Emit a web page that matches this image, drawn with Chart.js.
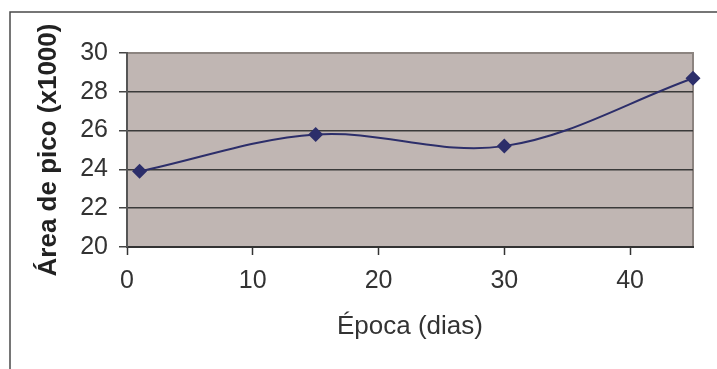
<!DOCTYPE html>
<html>
<head>
<meta charset="utf-8">
<script src="https://cdn.jsdelivr.net/npm/chart.js@4"></script>
<style>
    html, body { margin: 0; padding: 0; background: #fff; }
    #wrap { width: 717px; height: 369px; }
</style>
</head>
<body>
<div id="wrap"><canvas id="chart" width="717" height="369"></canvas></div>
<script>
// --- Data ---
const epocaDias = [1, 15, 30, 45];
const areaPico = [23.9, 25.8, 25.2, 28.7];
const xTicks = [0, 10, 20, 30, 40];
const yTicks = [20, 22, 24, 26, 28, 30];

const xTitle = "Época (dias)";
const yTitle = "Área de pico (x1000)";

// Plot background + Excel style frame
const framePlugin = {
    id: "frame",
    beforeDraw(chart) {
        const { ctx, chartArea: a } = chart;
        ctx.save();
        // outer chart border (only top and left visible in the crop)
        ctx.strokeStyle = "#4a4a4a";
        ctx.lineWidth = 1.5;
        ctx.beginPath();
        ctx.moveTo(717, 12);
        ctx.lineTo(10, 12);
        ctx.lineTo(10, 369);
        ctx.stroke();
        // plot area
        ctx.fillStyle = "#c0b6b3";
        ctx.fillRect(a.left, a.top, a.right - a.left, a.bottom - a.top);
        ctx.strokeStyle = "#8c8480";
        ctx.lineWidth = 2;
        ctx.beginPath();
        ctx.moveTo(a.left, a.top);
        ctx.lineTo(a.right, a.top);
        ctx.lineTo(a.right, a.bottom);
        ctx.stroke();
        ctx.restore();
    }
};

const ctx = document.getElementById("chart").getContext("2d");
new Chart(ctx, {
    type: "scatter",
    data: {
        datasets: [{
            data: epocaDias.map((x, i) => ({ x: x, y: areaPico[i] })),
            showLine: true,
            clip: false,
            borderColor: "#2c2e6a",
            borderWidth: 2,
            tension: 0.35,
            backgroundColor: "#2c2e6a",
            pointStyle: "rectRot",
            pointRadius: 7.5,
            pointBorderWidth: 0
        }]
    },
    options: {
        responsive: false,
        animation: false,
        layout: { padding: { left: 0, top: 53, right: 24, bottom: 0 } },
        plugins: {
            legend: { display: false },
            tooltip: { enabled: false }
        },
        scales: {
            x: {
                type: "linear",
                min: 0,
                max: 45,
                afterBuildTicks: s => { s.ticks = xTicks.map(v => ({ value: v })); },
                afterFit: s => { s.height = 122; },
                grid: { drawOnChartArea: false, drawTicks: true, tickLength: 8, tickColor: "#333", tickWidth: 1.5 },
                border: { display: true, color: "#333", width: 2 },
                ticks: {
                    color: "#333",
                    padding: 11,
                    maxRotation: 0,
                    font: { family: "Liberation Sans, Arial", size: 25 }
                },
                title: {
                    display: true,
                    text: xTitle,
                    color: "#333",
                    padding: { top: 0, bottom: 27 },
                    font: { family: "Liberation Sans, Arial", size: 26 }
                }
            },
            y: {
                min: 20,
                max: 30,
                afterBuildTicks: s => { s.ticks = yTicks.map(v => ({ value: v })); },
                afterFit: s => { s.width = 127; },
                grid: {
                    color: c => (c.tick && (c.tick.value === 30 || c.tick.value === 20)) ? "rgba(0,0,0,0)" : "#3a3a3a",
                    lineWidth: 1.5,
                    drawTicks: true,
                    tickLength: 8,
                    tickColor: "#444",
                    tickWidth: 1.5
                },
                border: { display: true, color: "#555", width: 2 },
                ticks: {
                    color: "#333",
                    padding: 11,
                    font: { family: "Liberation Sans, Arial", size: 25 }
                },
                title: {
                    display: true,
                    text: yTitle,
                    color: "#222",
                    padding: { top: 33, bottom: 0 },
                    font: { family: "Liberation Sans, Arial", size: 26, weight: "bold" }
                }
            }
        }
    },
    plugins: [framePlugin]
});
</script>
</body>
</html>
